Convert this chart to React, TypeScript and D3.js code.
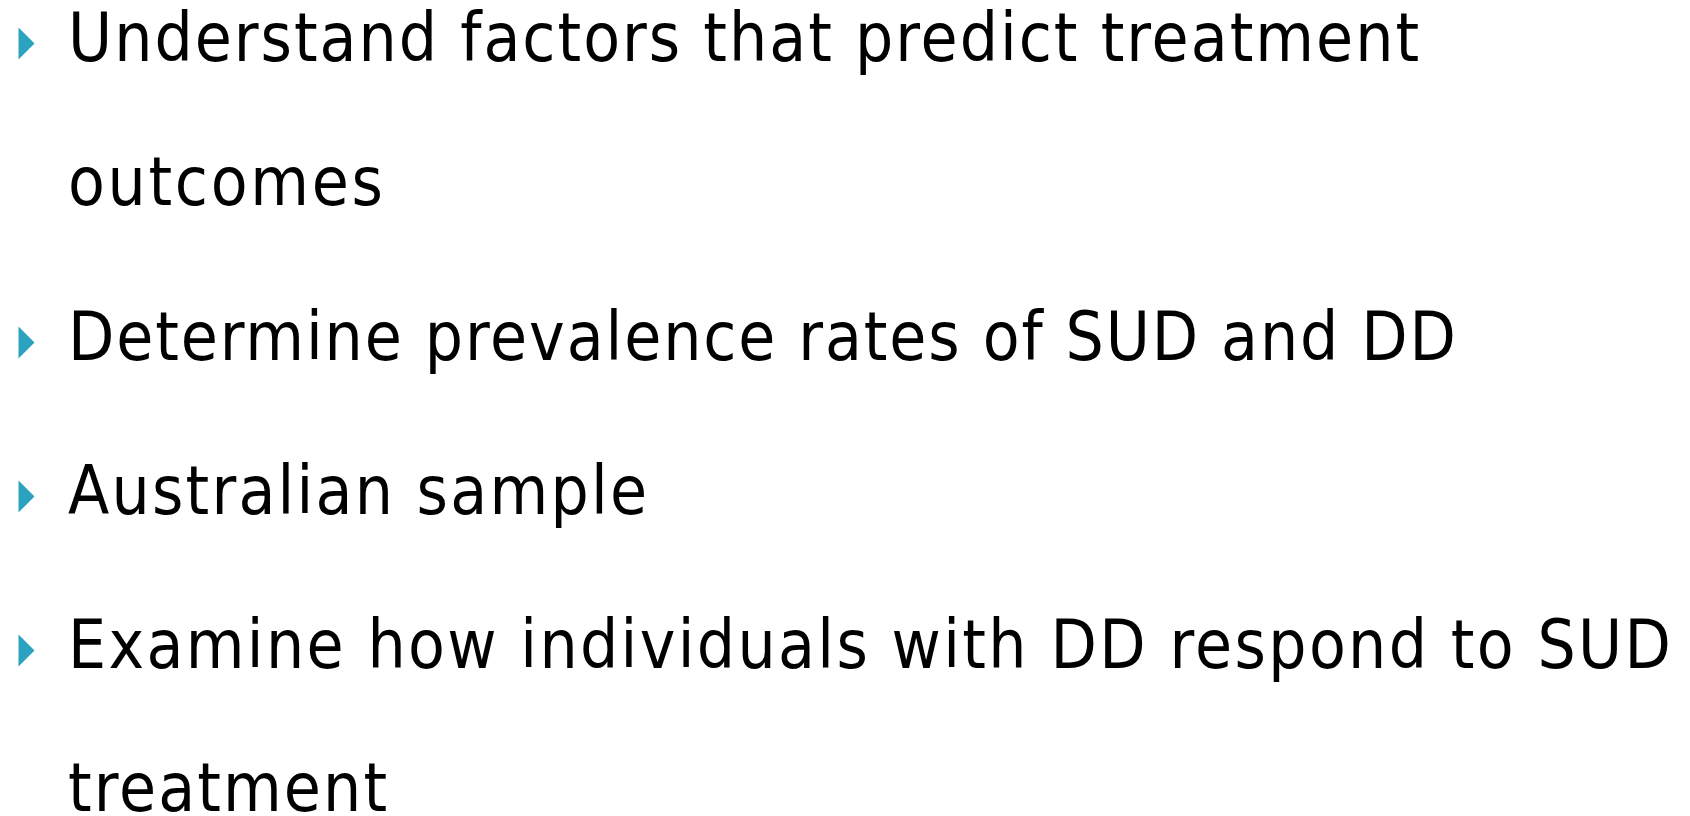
import React, { useEffect, useRef } from "react";
import * as d3 from "d3";

const bulletItems: string[][] = [
  ["Understand factors that predict treatment", "outcomes"],
  ["Determine prevalence rates of SUD and DD"],
  ["Australian sample"],
  ["Examine how individuals with DD respond to SUD", "treatment"],
];

// measured right edges of each rendered line (reference pixels)
const lineRightEdges: number[][] = [[1415, 379], [1452], [643], [1667, 383]];

const W = 1690;
const H = 816;
const BULLET_COLOR = "#2BA3C0";
const FONT = "'DejaVu Sans Condensed', 'DejaVu Sans', sans-serif";
const FONT_SIZE = 67;

export default function App() {
  const ref = useRef<SVGSVGElement | null>(null);

  useEffect(() => {
    const svg = d3.select(ref.current);
    svg.selectAll("*").remove();

    // flatten into rendered lines
    type Line = { text: string; first: boolean; right: number; idx: number };
    const lines: Line[] = [];
    bulletItems.forEach((item, i) =>
      item.forEach((t, j) =>
        lines.push({ text: t, first: j === 0, right: lineRightEdges[i][j], idx: lines.length })
      )
    );
    const baselines = [61, 205, 360, 514, 668, 811];
    const y = d3.scaleOrdinal<number, number>().domain(lines.map((l) => l.idx)).range(baselines);

    const textX = 68;
    const g = svg.append("g");
    lines.forEach((l) => {
      const by = y(l.idx);
      if (l.first) {
        g.append("path")
          .attr("d", `M18.5,${by - 33.5} L34.5,${by - 17.5} L18.5,${by - 1.5} Z`)
          .attr("fill", BULLET_COLOR);
      }
      const t = g
        .append("text")
        .attr("x", textX)
        .attr("y", by)
        .attr("font-family", FONT)
        .attr("font-size", FONT_SIZE)
        .attr("fill", "#000")
        .text(l.text);
      t.attr("textLength", l.right + 4 - textX).attr("lengthAdjust", "spacing");
    });
  }, []);

  return (
    <svg
      ref={ref}
      width={W}
      height={H}
      style={{ position: "absolute", left: 0, top: 0, background: "#fff" }}
    />
  );
}
